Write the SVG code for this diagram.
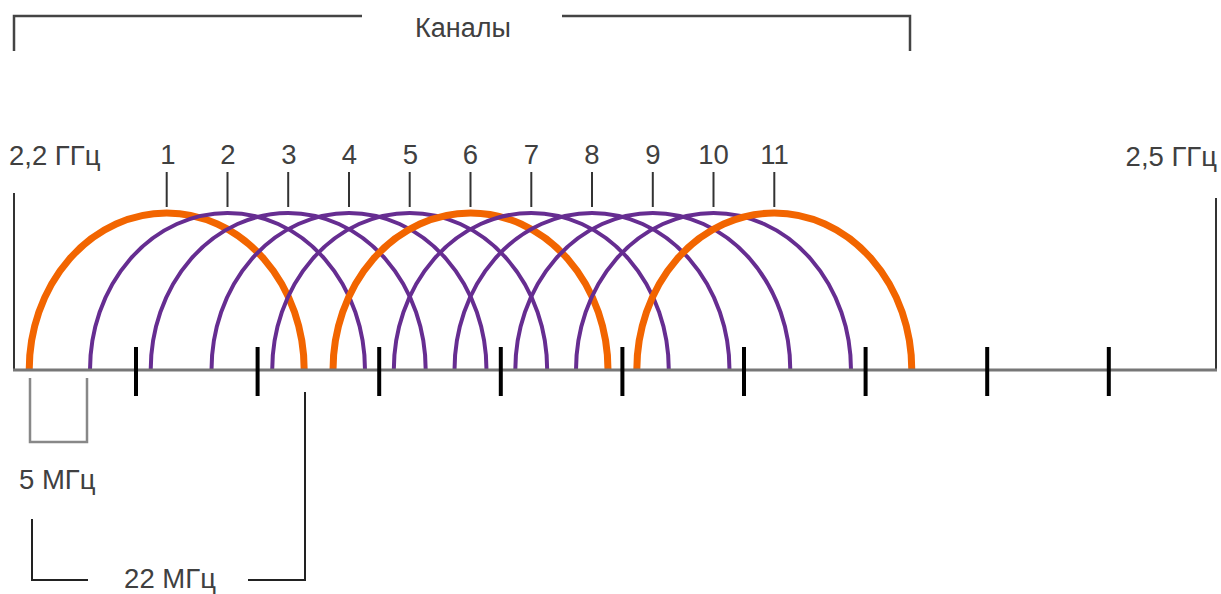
<svg xmlns="http://www.w3.org/2000/svg" width="1221" height="594" viewBox="0 0 1221 594">
<style>
text{font-family:"Liberation Sans",Arial,sans-serif;font-size:27.5px;fill:#404040}
.c{text-anchor:middle}
.br{fill:none;stroke:#444;stroke-width:2.5}
.lt{stroke:#333;stroke-width:2}
.tk{stroke:#000;stroke-width:4}
.o{fill:none;stroke:#f26500;stroke-width:7}
.p{fill:none;stroke:#662d91;stroke-width:4}
</style>
<rect width="1221" height="594" fill="#fff"/>
<g id="channels-bracket">
<path class="br" d="M14,51V16H362"/>
<path class="br" d="M562,16H910V51"/>
<text class="c" x="463" y="37" style="font-size:27px">Каналы</text>
</g>
<g id="axis">
<line x1="14" y1="193" x2="14" y2="371" stroke="#333" stroke-width="2"/>
<line x1="1216" y1="198" x2="1216" y2="371" stroke="#333" stroke-width="2"/>
<text x="9" y="165">2,2 ГГц</text>
<text x="1217" y="166" text-anchor="end">2,5 ГГц</text>
</g>
<g id="arcs">
<g id="ch1"><path class="o" d="M29.2,370A137.5,157 0 0 1 304.2,370"/></g>
<g id="ch2"><path class="p" d="M90,370A137.5,157 0 0 1 365,370"/></g>
<g id="ch3"><path class="p" d="M150.7,370A137.5,157 0 0 1 425.7,370"/></g>
<g id="ch4"><path class="p" d="M211.5,370A137.5,157 0 0 1 486.5,370"/></g>
<g id="ch5"><path class="p" d="M272.2,370A137.5,157 0 0 1 547.2,370"/></g>
<g id="ch6"><path class="o" d="M333,370A137.5,157 0 0 1 608,370"/></g>
<g id="ch7"><path class="p" d="M393.8,370A137.5,157 0 0 1 668.8,370"/></g>
<g id="ch8"><path class="p" d="M454.5,370A137.5,157 0 0 1 729.5,370"/></g>
<g id="ch9"><path class="p" d="M515.3,370A137.5,157 0 0 1 790.3,370"/></g>
<g id="ch10"><path class="p" d="M576,370A137.5,157 0 0 1 851,370"/></g>
<g id="ch11"><path class="o" d="M636.8,370A137.5,157 0 0 1 911.8,370"/></g>
</g>
<g id="baseline">
<line x1="13" y1="370" x2="1217" y2="370" stroke="#777" stroke-width="3"/>
<g class="tk">
<line x1="136" y1="347" x2="136" y2="396"/>
<line x1="257.6" y1="347" x2="257.6" y2="396"/>
<line x1="379.2" y1="347" x2="379.2" y2="396"/>
<line x1="500.8" y1="347" x2="500.8" y2="396"/>
<line x1="622.4" y1="347" x2="622.4" y2="396"/>
<line x1="744" y1="347" x2="744" y2="396"/>
<line x1="865.6" y1="347" x2="865.6" y2="396"/>
<line x1="987.2" y1="347" x2="987.2" y2="396"/>
<line x1="1108.8" y1="347" x2="1108.8" y2="396"/>
</g>
</g>
<g id="channel-labels">
<g class="lt">
<line x1="166.7" y1="172" x2="166.7" y2="207"/>
<line x1="227.5" y1="172" x2="227.5" y2="207"/>
<line x1="288.2" y1="172" x2="288.2" y2="207"/>
<line x1="349" y1="172" x2="349" y2="207"/>
<line x1="409.7" y1="172" x2="409.7" y2="207"/>
<line x1="470.5" y1="172" x2="470.5" y2="207"/>
<line x1="531.3" y1="172" x2="531.3" y2="207"/>
<line x1="592" y1="172" x2="592" y2="207"/>
<line x1="652.8" y1="172" x2="652.8" y2="207"/>
<line x1="713.5" y1="172" x2="713.5" y2="207"/>
<line x1="774.3" y1="172" x2="774.3" y2="207"/>
</g>
<text class="c" x="168" y="164">1</text>
<text class="c" x="228" y="164">2</text>
<text class="c" x="289" y="164">3</text>
<text class="c" x="349.5" y="164">4</text>
<text class="c" x="410.5" y="164">5</text>
<text class="c" x="470.5" y="164">6</text>
<text class="c" x="531.5" y="164">7</text>
<text class="c" x="592" y="164">8</text>
<text class="c" x="653" y="164">9</text>
<text class="c" x="713.5" y="164">10</text>
<text class="c" x="774.5" y="164">11</text>
</g>
<g id="bracket-5mhz">
<path d="M30,378V442H87V378" fill="none" stroke="#888" stroke-width="2.5"/>
<text x="19" y="489">5 МГц</text>
</g>
<g id="bracket-22mhz">
<path d="M32,519V580H88" fill="none" stroke="#222" stroke-width="2"/>
<path d="M248,580H305V392" fill="none" stroke="#222" stroke-width="2"/>
<text class="c" x="170" y="588">22 МГц</text>
</g>
</svg>
